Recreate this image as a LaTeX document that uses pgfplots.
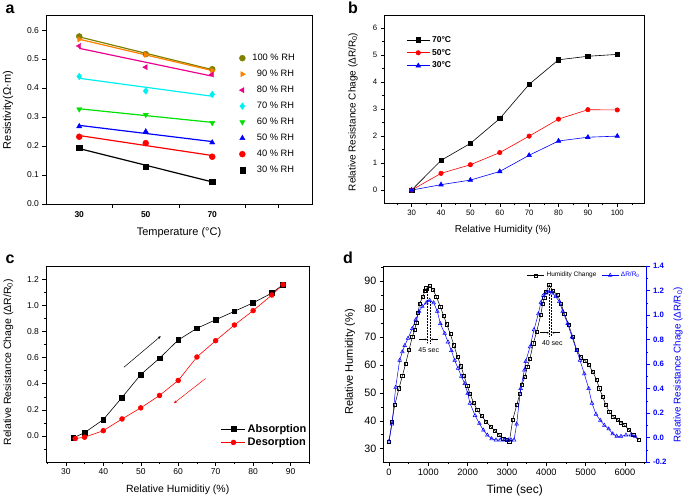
\documentclass[border=0pt]{standalone}
\usepackage{fontspec}
\setmainfont{Liberation Sans}
\usepackage{pgfplots}
\pgfplotsset{compat=1.18}
\usetikzlibrary{arrows.meta}
\definecolor{olivec}{RGB}{128,128,0}
\definecolor{orangec}{RGB}{255,128,0}
\definecolor{greenc}{RGB}{0,225,0}
\definecolor{cyanc}{RGB}{0,240,240}
\newcommand{\fs}[1]{\fontsize{#1}{#1}\selectfont}
\begin{document}
\begin{tikzpicture}
\path[use as bounding box] (0,0) rectangle (685pt,499pt);
\pgfplotsset{every axis/.append style={scale only axis,
  /pgf/number format/assume math mode=true,
  /pgf/number format/1000 sep={},
  tick align=outside, axis line style={line width=0.6pt},
  every tick/.style={black, line width=0.5pt},
  major tick length=3.5pt, minor tick length=2pt}}
% ---------------- panel a
\begin{axis}[at={(46pt,295pt)}, anchor=south west, width=266pt, height=189pt,
  tick pos=left,
  xmin=20, xmax=100, ymin=0, ymax=0.652,
  xtick={40,60,80,90}, xticklabels={},
  extra x ticks={30,50,70}, extra x tick labels={\textbf{30},\textbf{50},\textbf{70}},
  extra x tick style={major tick length=0pt, tick label style={font=\fs{8.5}\bfseries, yshift=-4pt}},
  ytick={0,0.1,0.2,0.3,0.4,0.5,0.6},
  yticklabel style={font=\fs{8.5}, /pgf/number format/fixed, /pgf/number format/fixed zerofill, /pgf/number format/precision=1},
  xlabel={Temperature (°C)}, ylabel={Resistivity(Ω·m)},
  xlabel style={font=\fs{11}, at={(axis description cs:0.5,-0.153)}, anchor=center},
  ylabel style={font=\fs{11}, at={(axis description cs:-0.143,0.497)}, anchor=center},
  legend style={at={(0.715,0.815)}, anchor=north west, draw=none, fill=none, font=\fs{9.3}, row sep=4pt},
  legend cell align=left,
  mark size=3pt]
\addplot[olivec, line width=1.2pt, forget plot] coordinates {(30,0.5765)(70,0.4635)};
\addplot[orangec, line width=1.2pt, forget plot] coordinates {(30,0.5683)(70,0.4603)};
\addplot[magenta, line width=1.2pt, forget plot] coordinates {(30,0.537)(70,0.441)};
\addplot[cyanc, line width=1.2pt, forget plot] coordinates {(30,0.4337)(70,0.3717)};
\addplot[greenc, line width=1.2pt, forget plot] coordinates {(30,0.3285)(70,0.2815)};
\addplot[blue, line width=1.2pt, forget plot] coordinates {(30,0.2713)(70,0.2153)};
\addplot[red, line width=1.2pt, forget plot] coordinates {(30,0.2362)(70,0.1672)};
\addplot[black, line width=1.2pt, forget plot] coordinates {(30,0.1912)(70,0.0762)};
\addplot[only marks, olivec, mark=*] coordinates {(30,0.578)(50,0.517)(70,0.465)};
\addlegendentry{\hspace{5pt}100 \% RH}
\addplot[only marks, orangec, mark=triangle*, mark options={rotate=-90}] coordinates {(30,0.568)(50,0.515)(70,0.460)};
\addlegendentry{\hspace{7pt}\ 90 \% RH}
\addplot[only marks, magenta, mark=triangle*, mark options={rotate=90}] coordinates {(30,0.545)(50,0.472)(70,0.447)};
\addlegendentry{\hspace{7pt}\ 80 \% RH}
\addplot[only marks, cyanc, mark=diamond*, mark size=3.3pt] coordinates {(30,0.44)(50,0.39)(70,0.378)};
\addlegendentry{\hspace{7pt}\ 70 \% RH}
\addplot[only marks, greenc, mark=triangle*, mark options={rotate=180}] coordinates {(30,0.327)(50,0.308)(70,0.28)};
\addlegendentry{\hspace{7pt}\ 60 \% RH}
\addplot[only marks, blue, mark=triangle*] coordinates {(30,0.268)(50,0.25)(70,0.212)};
\addlegendentry{\hspace{7pt}\ 50 \% RH}
\addplot[only marks, red, mark=*] coordinates {(30,0.232)(50,0.21)(70,0.163)};
\addlegendentry{\hspace{7pt}\ 40 \% RH}
\addplot[only marks, black, mark=square*, mark size=2.6pt] coordinates {(30,0.193)(50,0.13)(70,0.078)};
\addlegendentry{\hspace{7pt}\ 30 \% RH}
\end{axis}
% ---------------- panel b
\begin{axis}[at={(384.3pt,295.7pt)}, anchor=south west, width=259.7pt, height=188.3pt,
  tick pos=left,
  xmin=20.7, xmax=109.1, ymin=-0.49, ymax=6.49,
  xtick={30,40,...,100}, minor xtick={25,35,...,105},
  ytick={0,1,...,6}, minor ytick={0.5,1.5,...,5.5},
  ticklabel style={font=\fs{7.8}},
  xlabel={Relative Humidity (\%)}, ylabel={Relative Resistance Chage (ΔR/R\textsubscript{0})},
  xlabel style={font=\fs{10}, at={(axis description cs:0.457,-0.142)}, anchor=center},
  ylabel style={font=\fs{10}, at={(axis description cs:-0.12,0.485)}, anchor=center},
  legend style={at={(0.073,0.91)}, anchor=north west, draw=none, fill=none, font=\fs{8.5}\bfseries, row sep=1.5pt},
  legend cell align=left,
  legend image code/.code={\draw[mark repeat=2,mark phase=2,#1] plot coordinates {(0pt,0pt)(11.5pt,0pt)(23pt,0pt)};},
  mark size=2.2pt]
\addplot[black, line width=0.6pt, mark=square*] coordinates {(30,0)(40,1.1)(50,1.73)(60,2.65)(70,3.92)(80,4.83)(90,4.96)(100,5.03)};
\addlegendentry{70°C}
\addplot[red, line width=0.6pt, mark=*] coordinates {(30,0)(40,0.62)(50,0.94)(60,1.39)(70,2.0)(80,2.63)(90,2.98)(100,2.97)};
\addlegendentry{50°C}
\addplot[blue, line width=0.6pt, mark=triangle*, mark size=2.6pt] coordinates {(30,0)(40,0.2)(50,0.37)(60,0.69)(70,1.29)(80,1.82)(90,1.96)(100,2.0)};
\addlegendentry{30°C}
\end{axis}
% ---------------- panel c
\begin{axis}[at={(46pt,37pt)}, anchor=south west, width=263.3pt, height=195.3pt,
  tick pos=left,
  xmin=24.7, xmax=95, ymin=-0.2, ymax=1.297,
  xtick={30,40,...,90}, minor xtick={25,35,...,95},
  ytick={0,0.2,0.4,0.6,0.8,1.0,1.2}, minor ytick={-0.1,0.1,0.3,0.5,0.7,0.9,1.1},
  ticklabel style={font=\fs{8.5}},
  yticklabel style={/pgf/number format/fixed, /pgf/number format/fixed zerofill, /pgf/number format/precision=1},
  xlabel={Relative Humiditiy (\%)}, ylabel={Relative Resistance Chage (ΔR/R\textsubscript{0})},
  xlabel style={font=\fs{10.5}, at={(axis description cs:0.5,-0.14)}, anchor=center},
  ylabel style={font=\fs{10.5}, at={(axis description cs:-0.143,0.51)}, anchor=center},
  legend style={at={(0.653,0.215)}, anchor=north west, draw=none, fill=none, font=\fs{11}\bfseries, row sep=0pt},
  legend cell align=left,
  legend image code/.code={\draw[mark repeat=2,mark phase=2,#1] plot coordinates {(0pt,0pt)(12pt,0pt)(24pt,0pt)};},
  mark size=2.4pt]
\addplot[black, line width=0.6pt, mark=square*] coordinates {(32,-0.015)(35,0.025)(40,0.125)(45,0.295)(50,0.47)(55,0.595)(60,0.735)(65,0.825)(70,0.89)(75,0.955)(80,1.02)(85,1.095)(88,1.16)};
\addlegendentry{Absorption}
\addplot[red, line width=0.6pt, mark=*] coordinates {(32.5,-0.02)(35,-0.01)(40,0.04)(45,0.13)(50,0.215)(55,0.31)(60,0.425)(65,0.605)(70,0.73)(75,0.85)(80,0.96)(85,1.08)(88,1.16)};
\addlegendentry{Desorption}
\draw[black, line width=0.5pt, -{Latex[length=3pt,width=2.5pt]}] (axis cs:45.5,0.526) -- (axis cs:55.4,0.766);
\draw[red, line width=0.5pt, -{Latex[length=3pt,width=2.5pt]}] (axis cs:67.3,0.44) -- (axis cs:58.8,0.25);
\end{axis}
% ---------------- panel d (left axis)
\begin{axis}[at={(383.3pt,37pt)}, anchor=south west, width=262.7pt, height=196pt,
  axis y line*=left, axis x line*=box, xtick pos=left,
  xmin=-145, xmax=6535, ymin=25.24, ymax=95.37,
  scaled x ticks=false,
  xtick={0,1000,...,6000}, minor xtick={500,1500,...,6500},
  ytick={30,40,...,90}, minor ytick={35,45,...,95},
  xticklabel style={font=\fs{9.3}}, yticklabel style={font=\fs{10.7}},
  xlabel={Time (sec)}, ylabel={Relative Humidity (\%)},
  xlabel style={font=\fs{12}, at={(axis description cs:0.5,-0.146)}, anchor=center},
  ylabel style={font=\fs{11}, at={(axis description cs:-0.127,0.51)}, anchor=center}]
\addplot[black, line width=0.5pt, mark=square, mark size=1.6pt, mark options={line width=0.5pt}] coordinates {
(0,32.6)(76,39.7)(145,45.6)(254,51.6)(339,56)(424,60.5)(508,65.3)(593,70)(650,72.5)(695,75)(740,78.7)(780,82)(864,84.4)(910,86.5)(949,87.4)(1034,88.2)(1119,87)(1203,84.4)(1305,80.8)(1390,77.5)(1470,74.5)(1560,71)(1650,67)(1740,63)(1830,59.5)(1910,56)(1990,52.5)(2059,49.6)(2150,46.5)(2245,43.8)(2357,41.7)(2466,39.7)(2585,37.9)(2695,36.4)(2805,34.9)(2907,33.7)(2993,33.1)(3060,32.5)(3145,40.3)(3247,45.6)(3331,49.8)(3373,52.8)(3458,55.8)(3517,59.3)(3585,62.3)(3670,67.7)(3755,71.9)(3857,77.8)(3908,82)(3950,84)(3992,86.2)(4076,88.6)(4162,86.5)(4289,85)(4373,82)(4457,78.4)(4569,74.3)(4670,70)(4772,65.3)(4882,62.7)(4991,61.5)(5077,60)(5179,57.6)(5281,54.6)(5348,51.6)(5433,48.6)(5517,45.6)(5602,43.2)(5704,41.4)(5814,40.3)(5898,39.4)(5983,38.5)(6094,36.9)(6212,34.9)(6349,33.1)};
\draw[densely dotted, line width=0.5pt] (axis cs:975,88.2) -- (axis cs:975,67.8);
\draw[densely dotted, line width=0.5pt] (axis cs:1055,83) -- (axis cs:1055,67.8);
\draw[line width=0.5pt, -{Latex[length=2.5pt,width=2pt]}] (axis cs:763,69.1) -- (axis cs:975,69.1);
\draw[line width=0.5pt, -{Latex[length=2.5pt,width=2pt]}] (axis cs:1250,69.1) -- (axis cs:1055,69.1);
\node[font=\fs{7}] at (axis cs:1010,65.3) {45 sec};
\draw[densely dotted, line width=0.5pt] (axis cs:4076,88.6) -- (axis cs:4076,70.3);
\draw[densely dotted, line width=0.5pt] (axis cs:4136,85) -- (axis cs:4136,70.3);
\draw[line width=0.5pt, -{Latex[length=2.5pt,width=2pt]}] (axis cs:3839,71.5) -- (axis cs:4076,71.5);
\draw[line width=0.5pt, -{Latex[length=2.5pt,width=2pt]}] (axis cs:4360,71.5) -- (axis cs:4136,71.5);
\node[font=\fs{7}] at (axis cs:4153,67.7) {40 sec};
\end{axis}
% ---------------- panel d (right axis)
\begin{axis}[at={(383.3pt,37pt)}, anchor=south west, width=262.7pt, height=196pt,
  axis y line*=right, axis x line=none,
  xmin=-145, xmax=6535, ymin=-0.2, ymax=1.4,
  ytick={-0.2,0,0.2,0.4,0.6,0.8,1.0,1.2,1.4}, minor ytick={-0.1,0.1,0.3,0.5,0.7,0.9,1.1,1.3},
  y axis line style={blue, line width=0.6pt}, ytick style={blue}, every tick/.style={blue, line width=0.5pt},
  yticklabel style={font=\fs{7.8}\bfseries, text=blue, /pgf/number format/fixed, /pgf/number format/fixed zerofill, /pgf/number format/precision=1},
  ylabel={Relative Resistance Chage (ΔR/R\textsubscript{0})},
  ylabel style={font=\fs{9.8}, text=blue, at={(axis description cs:1.122,0.495)}, anchor=center},
  legend columns=2,
  legend style={at={(0.995,0.99)}, anchor=north east, draw=none, fill=none, font=\fs{6.5}, /tikz/every even column/.append style={column sep=3pt}},
  legend image code/.code={\draw[mark repeat=2,mark phase=2,#1] plot coordinates {(0pt,0pt)(8.5pt,0pt)(17pt,0pt)};}]
\addlegendimage{black, line width=0.5pt, mark=square, mark size=1.5pt}
\addlegendentry{Humidity Change}
\addplot[blue, line width=0.5pt, mark=triangle, mark size=2.1pt, mark options={line width=0.5pt}] coordinates {
(0,-0.03)(76,0.11)(170,0.41)(270,0.63)(340,0.70)(400,0.75)(483,0.81)(593,0.89)(678,0.96)(763,1.03)(847,1.07)(949,1.10)(1034,1.12)(1136,1.10)(1229,1.03)(1305,0.93)(1415,0.85)(1500,0.78)(1585,0.71)(1670,0.63)(1755,0.565)(1839,0.50)(1925,0.44)(2000,0.36)(2059,0.28)(2187,0.18)(2297,0.115)(2399,0.06)(2500,0.02)(2611,-0.01)(2720,-0.02)(2830,-0.02)(2940,-0.02)(3030,-0.02)(3103,-0.02)(3180,-0.02)(3246,0.11)(3348,0.40)(3441,0.55)(3475,0.62)(3585,0.74)(3687,0.88)(3797,1.01)(3860,1.10)(3924,1.16)(4000,1.18)(4076,1.19)(4150,1.18)(4240,1.15)(4331,1.11)(4416,1.03)(4543,0.93)(4653,0.82)(4772,0.71)(4856,0.63)(4966,0.52)(5077,0.40)(5161,0.28)(5263,0.19)(5373,0.14)(5475,0.10)(5586,0.07)(5688,0.03)(5790,0.01)(5899,0.01)(6026,0.02)(6153,0.02)(6263,0.01)};
\addlegendentry{\textcolor{blue}{ΔR/R\textsubscript{0}}}
\end{axis}
% panel letters
\node[font=\fs{16}\bfseries] at (10pt,490pt) {a};
\node[font=\fs{16}\bfseries] at (353pt,491pt) {b};
\node[font=\fs{16}\bfseries] at (10pt,240pt) {c};
\node[font=\fs{16}\bfseries] at (348pt,241pt) {d};
\end{tikzpicture}
\end{document}
